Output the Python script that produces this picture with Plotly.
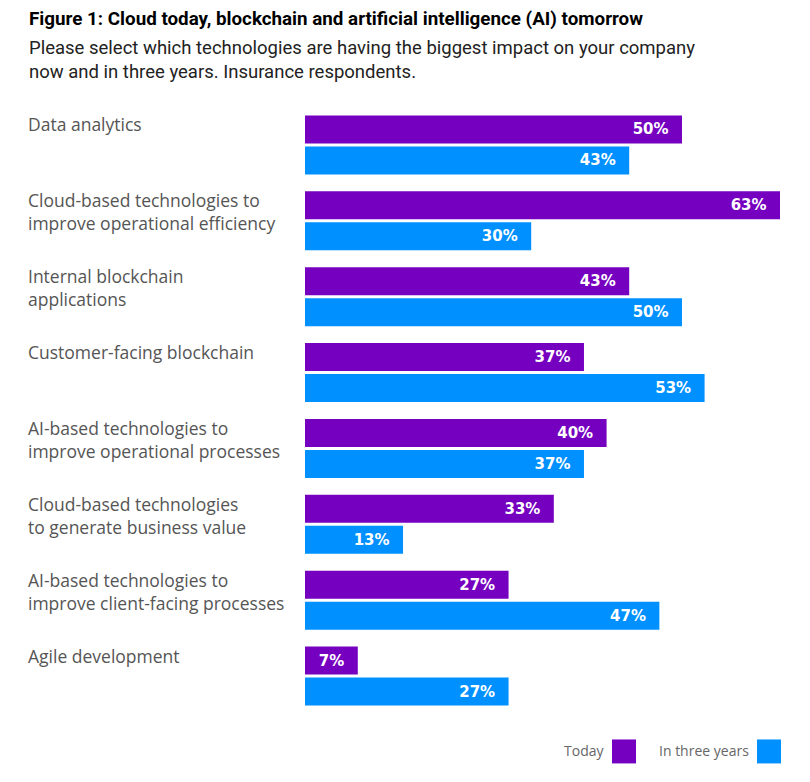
import plotly.graph_objects as go

categories = [
    "Data analytics",
    "Cloud-based technologies to<br>improve operational efficiency",
    "Internal blockchain<br>applications",
    "Customer-facing blockchain",
    "AI-based technologies to<br>improve operational processes",
    "Cloud-based technologies<br>to generate business value",
    "AI-based technologies to<br>improve client-facing processes",
    "Agile development",
]
today = [50, 63, 43, 37, 40, 33, 27, 7]
three_years = [43, 30, 50, 53, 37, 13, 47, 27]
series_names = ["Today", "In three years"]
colors = ["#7500C0", "#0090FF"]

OFF = 8  # page body offset
W, H = 810, 782
L = 305 - OFF
R = 810 - 780 + OFF
T = 106.5 - OFF
B = 782 - 714.5 + OFF
pw = W - L - R
ph = H - T - B

def px(x):
    return (x - OFF - L) / pw

def py(y):
    return (H - B - (y - OFF)) / ph

fig = go.Figure()
for name, vals, col in zip(series_names, [today, three_years], colors):
    fig.add_trace(go.Bar(
        y=categories, x=vals, orientation="h", name=name,
        marker=dict(color=col, line=dict(width=0)),
        text=[f"{v}%\u00a0\u00a0" for v in vals], textposition="inside",
        insidetextanchor="end",
        textfont=dict(family="DejaVu Sans, Arial, sans-serif", size=15, color="white", weight="bold"),
        cliponaxis=False, showlegend=False,
    ))

annotations = []
for c in categories:
    annotations.append(dict(
        x=px(26), xref="paper", y=c, yref="y", xanchor="left", yanchor="top",
        yshift=34.5, text=c, showarrow=False, align="left",
        font=dict(family="Open Sans, Arial, sans-serif", size=17.5, color="#555555"),
    ))

annotations.append(dict(
    x=px(27), xref="paper", y=py(5), yref="paper", xanchor="left", yanchor="top",
    text="<b>Figure 1: Cloud today, blockchain and artificial intelligence (AI) tomorrow</b>",
    showarrow=False, align="left",
    font=dict(family="Roboto, Arial, sans-serif", size=18.8, color="#000000"),
))
annotations.append(dict(
    x=px(27), xref="paper", y=py(34), yref="paper", xanchor="left", yanchor="top",
    text="Please select which technologies are having the biggest impact on your company<br>now and in three years. Insurance respondents.",
    showarrow=False, align="left",
    font=dict(family="Roboto, Arial, sans-serif", size=18.5, color="#222222"),
))

# legend: text then square
legend_items = [(series_names[0], colors[0], 612), (series_names[1], colors[1], 757)]
shapes = []
for name, col, sx in legend_items:
    shapes.append(dict(type="rect", xref="paper", yref="paper",
                       x0=px(sx), x1=px(sx + 24), y0=py(764), y1=py(740),
                       fillcolor=col, line=dict(width=0)))
    annotations.append(dict(
        x=px(sx - 6), xref="paper", y=py(751), yref="paper", xanchor="right", yanchor="middle",
        text=name, showarrow=False,
        font=dict(family="Open Sans, Arial, sans-serif", size=14, color="#666666"),
    ))

fig.update_layout(
    width=W, height=H,
    margin=dict(l=L, r=R, t=T, b=B, autoexpand=False),
    barmode="group", bargap=14 / 76, bargroupgap=3 / 31,
    plot_bgcolor="white", paper_bgcolor="white",
    xaxis=dict(range=[0, 63], visible=False, fixedrange=True),
    yaxis=dict(autorange="reversed", showticklabels=False, showgrid=False,
               zeroline=False, showline=False, ticks=""),
    annotations=annotations, shapes=shapes,
    uniformtext=dict(minsize=8, mode="show"),
)

fig.write_html("out.html")
